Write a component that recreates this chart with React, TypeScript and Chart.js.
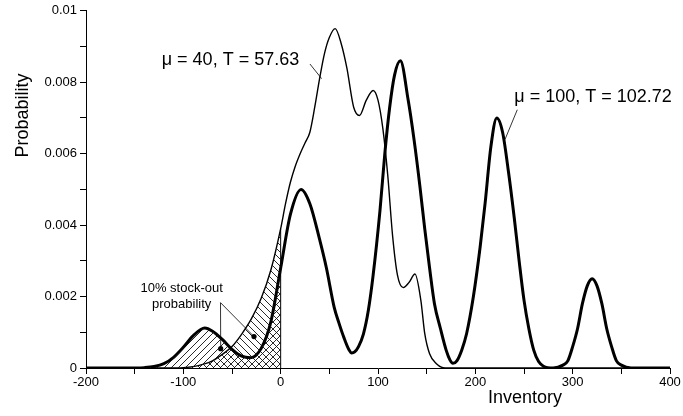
import React, { useEffect, useRef } from 'react';
import { Chart, registerables } from 'chart.js';

Chart.register(...registerables);

// μ = 40, T = 57.63 (thin curve)
const thinX = [-200, -130, -110, -100, -90, -80, -70, -60, -50, -40, -30, -20, -10, 0, 5, 10, 15, 20, 25, 30, 35, 40, 45, 50, 56, 62, 68, 75, 81, 88, 95, 100, 105, 110, 115, 120, 126, 132, 138, 144, 148, 153, 160, 169, 200, 400];
const thinY = [0, 0, 0.000003, 0.00001, 0.00004, 0.0001, 0.0002, 0.00038, 0.0006, 0.00095, 0.00138, 0.00195, 0.00275, 0.0039, 0.0046, 0.0052, 0.00565, 0.006, 0.0063, 0.0066, 0.0073, 0.0081, 0.0088, 0.00925, 0.0095, 0.0091, 0.0084, 0.0073, 0.00707, 0.0075, 0.00777, 0.0075, 0.0067, 0.0054, 0.0037, 0.0026, 0.00225, 0.0024, 0.00263, 0.0019, 0.00097, 0.0004, 0.00012, 0, 0, 0];

// μ = 100, T = 102.72 (thick curve)
const thickX = [-200, -150, -140, -130, -120, -110, -100, -90, -78, -70, -60, -50, -40, -31, -20, -10, 0, 10, 21, 30, 40, 47, 55, 60, 65, 70, 73, 76, 80, 85, 90, 95, 102, 107, 112, 117, 123, 131, 137, 143, 148, 153, 158, 164, 170, 174, 177, 181, 186, 191, 198, 205, 210, 216, 222, 228, 234, 240, 245, 250, 255, 260, 265, 270, 280, 290, 295, 300, 305, 310, 315, 320, 325, 330, 335, 340, 345, 350, 360, 400];
const thickY = [0, 0.000003, 0.00001, 0.00004, 0.00012, 0.0003, 0.00058, 0.0009, 0.00112, 0.00103, 0.0008, 0.00052, 0.00033, 0.00029, 0.00055, 0.0013, 0.0028, 0.0043, 0.005, 0.0046, 0.0036, 0.0028, 0.0017, 0.00125, 0.00085, 0.00052, 0.00042, 0.00045, 0.0006, 0.00095, 0.0016, 0.0026, 0.0044, 0.006, 0.0073, 0.0082, 0.0086, 0.0075, 0.0064, 0.0051, 0.0039, 0.0028, 0.0018, 0.00112, 0.0005, 0.00022, 0.00013, 0.0002, 0.0005, 0.00096, 0.002, 0.0034, 0.0046, 0.0062, 0.007, 0.0066, 0.0055, 0.0042, 0.003, 0.0019, 0.0011, 0.0005, 0.00018, 0.00005, 0, 0.00008, 0.0002, 0.0006, 0.0011, 0.0018, 0.0023, 0.0025, 0.0023, 0.0018, 0.0011, 0.0006, 0.0002, 0.00008, 0, 0];

const stockOutLimit = 0; // hatched region: inventory below 0

const xMin = -200;
const xMax = 400;
const yMin = 0;
const yMax = 0.01;

const labelThin = 'μ = 40, T = 57.63';
const labelThick = 'μ = 100, T = 102.72';
const stockOutLines = ['10% stock-out', 'probability'];
const xTitle = 'Inventory';
const yTitle = 'Probability';

const FONT = '"Liberation Sans", Arial, Helvetica, sans-serif';

function pts(xs: number[], ys: number[], maxX = Infinity) {
  const out: { x: number; y: number }[] = [];
  xs.forEach((x, i) => {
    if (x <= maxX) out.push({ x, y: ys[i] });
  });
  return out;
}

function makePattern(ctx: CanvasRenderingContext2D, forward: boolean) {
  const s = 7;
  const c = document.createElement('canvas');
  c.width = s;
  c.height = s;
  const g = c.getContext('2d')!;
  g.strokeStyle = '#111';
  g.lineWidth = 0.9;
  g.beginPath();
  if (forward) {
    g.moveTo(-1, s + 1); g.lineTo(s + 1, -1);
    g.moveTo(-1, 1); g.lineTo(1, -1);
    g.moveTo(s - 1, s + 1); g.lineTo(s + 1, s - 1);
  } else {
    g.moveTo(-1, -1); g.lineTo(s + 1, s + 1);
    g.moveTo(s - 1, -1); g.lineTo(s + 1, 1);
    g.moveTo(-1, s - 1); g.lineTo(1, s + 1);
  }
  g.stroke();
  return ctx.createPattern(c, 'repeat')!;
}

const annotationPlugin = {
  id: 'annotations',
  afterDraw(chart: any) {
    const { ctx, scales, chartArea } = chart;
    const X = (v: number) => scales.x.getPixelForValue(v);
    const Y = (v: number) => scales.y.getPixelForValue(v);
    ctx.save();
    ctx.fillStyle = '#000';
    ctx.strokeStyle = '#000';

    // curve labels
    ctx.font = `18px ${FONT}`;
    ctx.textAlign = 'left';
    ctx.textBaseline = 'middle';
    ctx.fillText(labelThin, X(-122.2), Y(0.00863));
    ctx.fillText(labelThick, X(240), Y(0.00758));

    ctx.lineWidth = 0.8;
    ctx.beginPath();
    ctx.moveTo(X(30.1), Y(0.00851));
    ctx.lineTo(X(42.1), Y(0.0081));
    ctx.moveTo(X(243.1), Y(0.00723));
    ctx.lineTo(X(230.5), Y(0.0064));
    ctx.stroke();

    // stock-out label
    ctx.font = `13px ${FONT}`;
    ctx.textAlign = 'center';
    ctx.fillText(stockOutLines[0], X(-101.7), Y(0.00224));
    ctx.fillText(stockOutLines[1], X(-101.7), Y(0.00178));

    ctx.beginPath();
    ctx.moveTo(X(-61.8), Y(0.00183));
    ctx.lineTo(X(-61.6), Y(0.00054));
    ctx.moveTo(X(-61.8), Y(0.00183));
    ctx.lineTo(X(-27.4), Y(0.00088));
    ctx.stroke();
    [[-61.6, 0.00054], [-27.4, 0.00088]].forEach(([a, b]) => {
      ctx.beginPath();
      ctx.arc(X(a), Y(b), 2.6, 0, Math.PI * 2);
      ctx.fill();
    });

    // axis titles
    ctx.font = `18px ${FONT}`;
    ctx.textAlign = 'center';
    ctx.textBaseline = 'alphabetic';
    ctx.fillText(xTitle, X(251), chartArea.bottom + 35);

    ctx.translate(28, Y(0.00707));
    ctx.rotate(-Math.PI / 2);
    ctx.fillText(yTitle, 0, 0);
    ctx.restore();
  },
};

export default function App() {
  const ref = useRef<HTMLCanvasElement | null>(null);

  useEffect(() => {
    const canvas = ref.current!;
    const ctx = canvas.getContext('2d')!;
    const hatchThick = makePattern(ctx, true);
    const hatchThin = makePattern(ctx, false);
    const thinAtZero = thinY[thinX.indexOf(stockOutLimit)];

    const chart = new Chart(ctx, {
      type: 'line',
      data: {
        datasets: [
          {
            label: 'thick-fill',
            data: pts(thickX, thickY, stockOutLimit),
            borderWidth: 0,
            borderColor: 'rgba(0,0,0,0)',
            backgroundColor: hatchThick,
            fill: 'origin',
            pointRadius: 0,
            cubicInterpolationMode: 'monotone',
          },
          {
            label: 'thin-fill',
            data: pts(thinX, thinY, stockOutLimit),
            borderWidth: 0,
            borderColor: 'rgba(0,0,0,0)',
            backgroundColor: hatchThin,
            fill: 'origin',
            pointRadius: 0,
            cubicInterpolationMode: 'monotone',
          },
          {
            label: 'limit',
            data: [
              { x: stockOutLimit, y: 0 },
              { x: stockOutLimit, y: thinAtZero },
            ],
            borderWidth: 1,
            borderColor: '#000',
            pointRadius: 0,
            fill: false,
          },
          {
            label: labelThin,
            data: pts(thinX, thinY),
            borderWidth: 1.4,
            borderColor: '#000',
            pointRadius: 0,
            fill: false,
            cubicInterpolationMode: 'monotone',
          },
          {
            label: labelThick,
            data: pts(thickX, thickY),
            borderWidth: 3,
            borderColor: '#000',
            pointRadius: 0,
            fill: false,
            cubicInterpolationMode: 'monotone',
          },
        ],
      },
      options: {
        animation: false,
        responsive: false,
        devicePixelRatio: 1,
        layout: { padding: { top: 9, right: 13, left: 0, bottom: 0 } },
        plugins: {
          legend: { display: false },
          tooltip: { enabled: false },
        },
        scales: {
          x: {
            type: 'linear',
            min: xMin,
            max: xMax,
            afterFit: (s: any) => { s.height = 48; },
            ticks: {
              stepSize: 50,
              autoSkip: false,
              maxRotation: 0,
              padding: 1,
              color: '#000',
              font: { family: FONT, size: 13 },
              callback: (v: any) => (Math.round(v) % 100 === 0 ? String(Math.round(v)) : ''),
            },
            grid: { display: true, drawOnChartArea: false, drawTicks: true, tickLength: 6, color: '#000', lineWidth: 1 },
            border: { display: true, color: '#000', width: 1 },
          },
          y: {
            type: 'linear',
            min: yMin,
            max: yMax,
            afterFit: (s: any) => { s.width = 86; },
            ticks: {
              stepSize: 0.001,
              autoSkip: false,
              padding: 3,
              color: '#000',
              font: { family: FONT, size: 13 },
              callback: (v: any) => {
                const k = Math.round(v * 1000);
                if (k % 2 !== 0) return '';
                if (k === 0) return '0';
                if (k === 10) return '0.01';
                return (k / 1000).toFixed(3);
              },
            },
            grid: { display: true, drawOnChartArea: false, drawTicks: true, tickLength: 6, color: '#000', lineWidth: 1 },
            border: { display: true, color: '#000', width: 1 },
          },
        },
      },
      plugins: [annotationPlugin],
    });
    return () => chart.destroy();
  }, []);

  return (
    <div style={{ position: 'absolute', left: 0, top: 0, width: 683, height: 416, background: '#fff' }}>
      <canvas ref={ref} width={683} height={416} style={{ display: 'block', width: 683, height: 416 }} />
    </div>
  );
}
